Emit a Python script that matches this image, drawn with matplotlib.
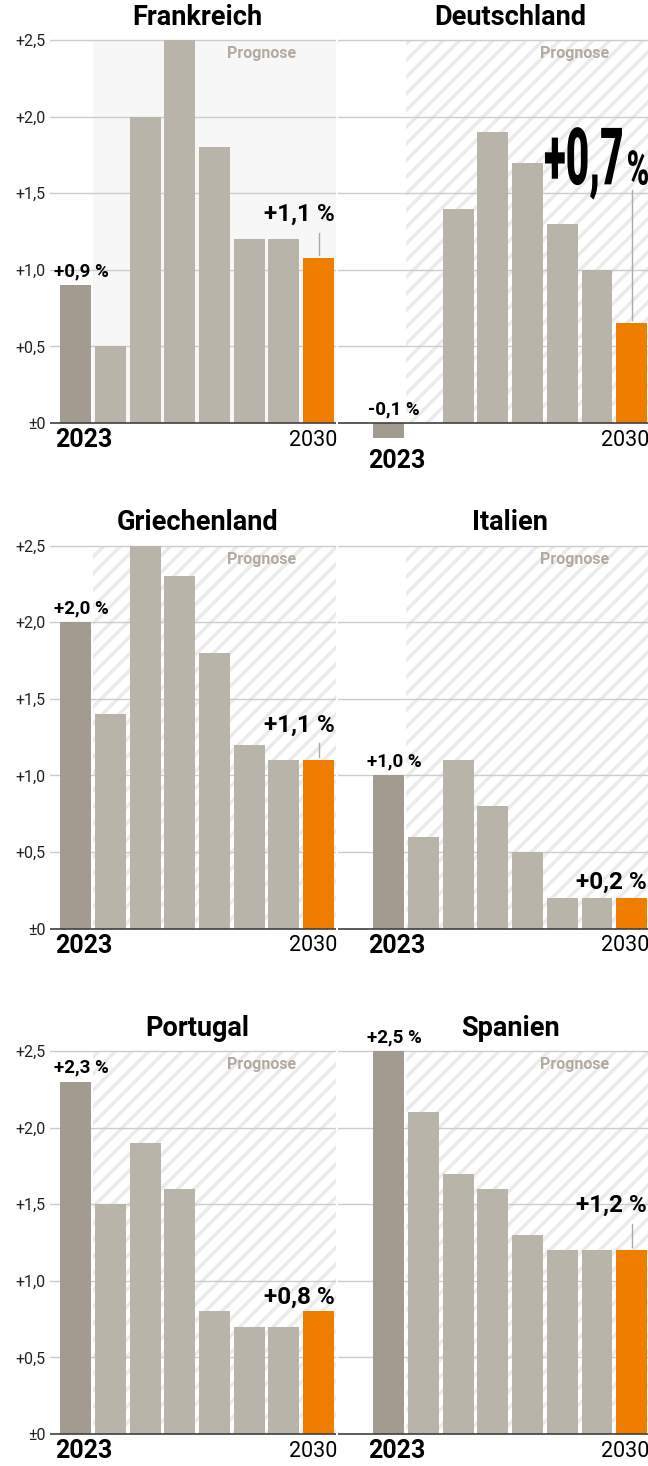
import matplotlib
matplotlib.use("Agg")
import matplotlib.pyplot as plt
import matplotlib.transforms as mtransforms
from matplotlib.textpath import TextPath
from matplotlib.patches import PathPatch, Rectangle
from matplotlib.font_manager import FontProperties

plt.rcParams['font.family'] = ['Roboto', 'DejaVu Sans']
plt.rcParams['hatch.linewidth'] = 2.5

# Wirtschaftswachstum in %, 2023 bis 2030 (ab 2024 Prognose)
countries = ["Frankreich", "Deutschland", "Griechenland", "Italien", "Portugal", "Spanien"]
years = list(range(2023, 2031))
frankreich = [0.9, 0.5, 2.0, 2.5, 1.8, 1.2, 1.2, 1.08]
deutschland = [-0.1, 0.0, 1.4, 1.9, 1.7, 1.3, 1.0, 0.65]
griechenland = [2.0, 1.4, 2.5, 2.3, 1.8, 1.2, 1.1, 1.1]
italien = [1.0, 0.6, 1.1, 0.8, 0.5, 0.2, 0.2, 0.2]
portugal = [2.3, 1.5, 1.9, 1.6, 0.8, 0.7, 0.7, 0.8]
spanien = [2.5, 2.1, 1.7, 1.6, 1.3, 1.2, 1.2, 1.2]
values = [frankreich, deutschland, griechenland, italien, portugal, spanien]

yticks = [0, 0.5, 1.0, 1.5, 2.0, 2.5]
ytick_labels = ["±0", "+0,5", "+1,0", "+1,5", "+2,0", "+2,5"]
# height at which the 2030 label sits
label_heights = [1.36, 1.55, 1.33, 0.30, 0.89, 1.49]

c_first = "#a39a90"
c_mid = "#b8b4a9"
c_last = "#ef7d00"
c_prog = "#b3aaa0"


def fmt(v):
    return f"{v:+.1f}".replace(".", ",")


def condensed(ax, s, x_right, y_base, width_px, height_px, ref="0"):
    # squeezed heavy text drawn as a path
    fp = FontProperties(family="Roboto", weight="black")
    tp = TextPath((0, 0), s, size=1, prop=fp)
    bb = tp.get_extents()
    hb = TextPath((0, 0), ref, size=1, prop=fp).get_extents()
    sx = width_px / bb.width
    sy = height_px / hb.height
    tr = (mtransforms.Affine2D().translate(-bb.x1, -hb.y0).scale(sx, sy)
          + mtransforms.ScaledTranslation(x_right, y_base, ax.transData))
    ax.add_artist(PathPatch(tp, transform=tr, facecolor="black", lw=0, clip_on=False))


W, H = 648, 1466
fig = plt.figure(figsize=(W / 100, H / 100), dpi=100)

for i, (name, vals) in enumerate(zip(countries, values)):
    row, col = divmod(i, 2)
    top = 37 + 505.5 * row
    if col == 0:
        x0, x1, xlim = 50, 336, (-0.74, 7.5)
    else:
        x0, x1, xlim = 338, 648, (-1.46, 7.47)
    ax = fig.add_axes([x0 / W, 1 - (top + 409) / H, (x1 - x0) / W, 409 / H])
    ax.set_xlim(xlim)
    ax.set_ylim(-0.15, 2.52)
    for s in ax.spines.values():
        s.set_visible(False)

    # Prognose area
    if name == "Frankreich":
        ax.add_patch(Rectangle((0.5, 0), xlim[1] - 0.5, 2.5, facecolor="#f7f7f7", lw=0, zorder=0))
    else:
        ax.add_patch(Rectangle((0.5, 0), xlim[1] - 0.5, 2.5, facecolor="white",
                               edgecolor="#ebebeb", hatch="//", lw=0, zorder=0))
    ax.text(5.35, 2.41, "Prognose", ha="center", va="center", fontsize=11.5,
            fontweight="bold", color=c_prog)

    for y in yticks[1:]:
        ax.axhline(y, color="#cccccc", lw=1, zorder=1)
    ax.axhline(0, color="#404040", lw=1.2, zorder=4)

    colors = [c_first] + [c_mid] * (len(years) - 2) + [c_last]
    xs = list(range(len(years)))
    ax.bar(xs, vals, width=0.89, color=colors, zorder=3)

    ax.set_xticks([])
    if col == 0:
        ax.set_yticks(yticks, ytick_labels)
        ax.tick_params(axis="y", length=0, pad=3, labelsize=11.5, labelcolor="#222222")
    else:
        ax.set_yticks([])

    ax.text(3.5, 2.65, name, ha="center", va="center", fontsize=19.5, fontweight="bold")

    # first year
    v0 = vals[0]
    ax.annotate(fmt(v0) + " %", (0.15, max(v0, 0)), xytext=(0, 3.5), textcoords="offset points",
                ha="center", va="bottom", fontsize=13.5, fontweight="bold")
    ax.annotate(str(years[0]), (-0.6, min(v0, 0)), xytext=(0, -12.5 if v0 >= 0 else -16),
                textcoords="offset points", ha="left", va="center", fontsize=18,
                fontweight="bold", annotation_clip=False)
    ax.annotate(str(years[-1]), (xlim[1] + 0.05, 0), xytext=(0, -12.5), textcoords="offset points",
                ha="right", va="center", fontsize=15.5, annotation_clip=False)

    # last year
    vl = vals[-1]
    ly = label_heights[i]
    xl = len(years) - 1
    if name == "Deutschland":
        condensed(ax, fmt(vl), 6.72, 1.553, 77, 58)
        condensed(ax, "%", xlim[1], 1.553, 20, 35, ref="%")
        ax.plot([xl, xl], [1.52, vl + 0.02], color="#aaaaaa", lw=1, zorder=2)
    else:
        ax.text(xlim[1] - 0.05, ly, fmt(vl) + " %", ha="right", va="center",
                fontsize=17.5, fontweight="bold")
        if ly - 0.12 > vl + 0.06:
            ax.plot([xl, xl], [ly - 0.12, vl + 0.02], color="#aaaaaa", lw=1, zorder=2)

fig.savefig("out.png", dpi=100)
